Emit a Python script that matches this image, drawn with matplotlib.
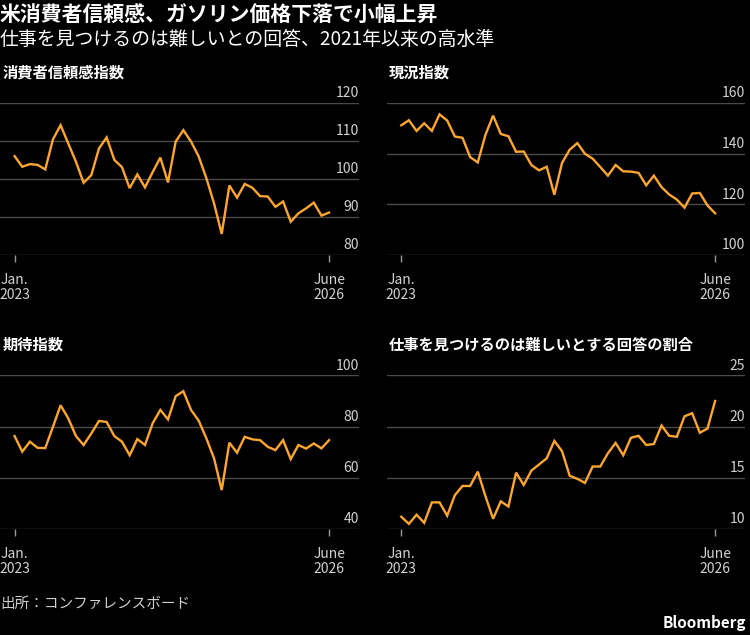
import matplotlib
matplotlib.use('Agg')
import matplotlib.pyplot as plt
import matplotlib.transforms as mtransforms

plt.rcParams['font.family'] = ['Noto Sans CJK JP', 'DejaVu Sans']

# monthly readings, Jan 2023 .. June 2026
confidence = [106.0, 103.2, 103.9, 103.7, 102.5, 110.4, 114.1, 109.3, 104.5, 99.0,
              101.0, 108.0, 110.9, 105.0, 103.1, 97.6, 101.2, 97.8, 101.8, 105.6,
              99.1, 109.8, 112.8, 109.8, 105.9, 100.2, 93.6, 85.6, 98.3, 95.1,
              98.7, 97.7, 95.5, 95.4, 92.7, 94.1, 88.8, 91.0, 92.3, 93.8,
              90.4, 91.2]
present = [151.1, 153.1, 148.9, 151.9, 148.9, 155.4, 153.0, 146.7, 146.2, 138.6,
           136.5, 147.4, 154.9, 147.7, 146.8, 140.7, 140.8, 135.5, 133.4, 134.8,
           123.8, 136.3, 141.5, 144.1, 139.9, 138.0, 134.7, 131.3, 135.5, 133.0,
           132.9, 132.4, 127.5, 131.3, 126.8, 123.9, 121.9, 118.7, 124.3, 124.5,
           119.6, 116.5]
expectations = [76.3, 70.2, 74.1, 71.7, 71.6, 79.9, 88.3, 83.2, 76.3, 72.8,
                77.3, 82.2, 81.8, 76.3, 74.1, 68.8, 75.1, 72.8, 81.3, 86.5,
                82.8, 91.9, 93.8, 86.5, 82.3, 75.4, 67.6, 55.2, 73.7, 69.8,
                76.0, 75.0, 74.7, 72.1, 70.8, 74.7, 67.3, 72.8, 71.4, 73.4,
                71.5, 74.7]
jobs_hard = [11.2, 10.5, 11.4, 10.6, 12.6, 12.6, 11.3, 13.3, 14.2, 14.2,
             15.6, 13.2, 11.0, 12.7, 12.2, 15.5, 14.3, 15.7, 16.3, 16.9,
             18.6, 17.6, 15.2, 14.9, 14.5, 16.1, 16.1, 17.4, 18.4, 17.2,
             18.9, 19.1, 18.2, 18.3, 20.1, 19.1, 19.0, 21.0, 21.3, 19.4,
             19.8, 22.5]

months = list(range(len(confidence)))
xtick_pos = [0, len(confidence) - 1]
xtick_labels = ['Jan.\n2023', 'June\n2026']

panels = [
    ('消費者信頼感指数', confidence, [80, 90, 100, 110, 120]),
    ('現況指数', present, [100, 120, 140, 160]),
    ('期待指数', expectations, [40, 60, 80, 100]),
    ('仕事を見つけるのは難しいとする回答の割合', jobs_hard, [10, 15, 20, 25]),
]

BG = '#000000'
ORANGE = '#ffa630'
GRID = '#4a4a4a'
TICK_TXT = '#d2d2d2'

fig = plt.figure(figsize=(7.5, 6.35), dpi=100, facecolor=BG)

# axes boxes in figure fractions
boxes = [
    (0.0, 0.598, 0.4787, 0.2403),
    (0.5156, 0.598, 0.4777, 0.2403),
    (0.0, 0.1669, 0.4787, 0.242),
    (0.5156, 0.1669, 0.4777, 0.242),
]

for (title, values, yticks), box in zip(panels, boxes):
    ax = fig.add_axes(box)
    ax.set_facecolor(BG)
    ax.plot(months, values, color=ORANGE, lw=1.7, solid_joinstyle='miter')
    ax.set_xlim(-1.9, len(values) - 1 + 3.9)
    ax.set_ylim(yticks[0], yticks[-1])
    for s in ax.spines.values():
        s.set_visible(False)
    ax.set_yticks(yticks)
    ax.yaxis.grid(True, color=GRID, lw=1)
    ax.tick_params(axis='y', length=0, labelleft=False)
    ax.set_xticks(xtick_pos)
    ax.set_xticklabels(xtick_labels, linespacing=1.05)
    ax.tick_params(axis='x', length=5, width=1, color='#9a9a9a',
                   labelcolor=TICK_TXT, labelsize=10, pad=8)
    # value labels sit just above each gridline at the right edge
    trans = mtransforms.blended_transform_factory(ax.transAxes, ax.transData)
    for v in yticks:
        ax.annotate(str(v), xy=(1.0, v), xycoords=trans, xytext=(0, 2),
                    textcoords='offset points', ha='right', va='bottom',
                    color=TICK_TXT, fontsize=10, annotation_clip=False)
    bx, by, bw, bh = box
    fig.text(bx + 0.003, by + bh + 0.048, title, color='white', fontsize=11,
             fontweight='bold', ha='left', va='center')

fig.text(0.0, 1 - 15 / 635, '米消費者信頼感、ガソリン価格下落で小幅上昇',
         color='white', fontsize=15, fontweight='bold', ha='left', va='center')
fig.text(0.0, 1 - 39 / 635, '仕事を見つけるのは難しいとの回答、2021年以来の高水準',
         color='white', fontsize=13.6, ha='left', va='center')
fig.text(0.0, 1 - 604 / 635, '出所：コンファレンスボード', color='#cfcfcf',
         fontsize=10.5, ha='left', va='center')
fig.text(0.995, 1 - 623 / 635, 'Bloomberg', color='white', fontsize=11,
         fontweight='bold', ha='right', va='center')

fig.savefig('out.png', dpi=100, facecolor=BG)
